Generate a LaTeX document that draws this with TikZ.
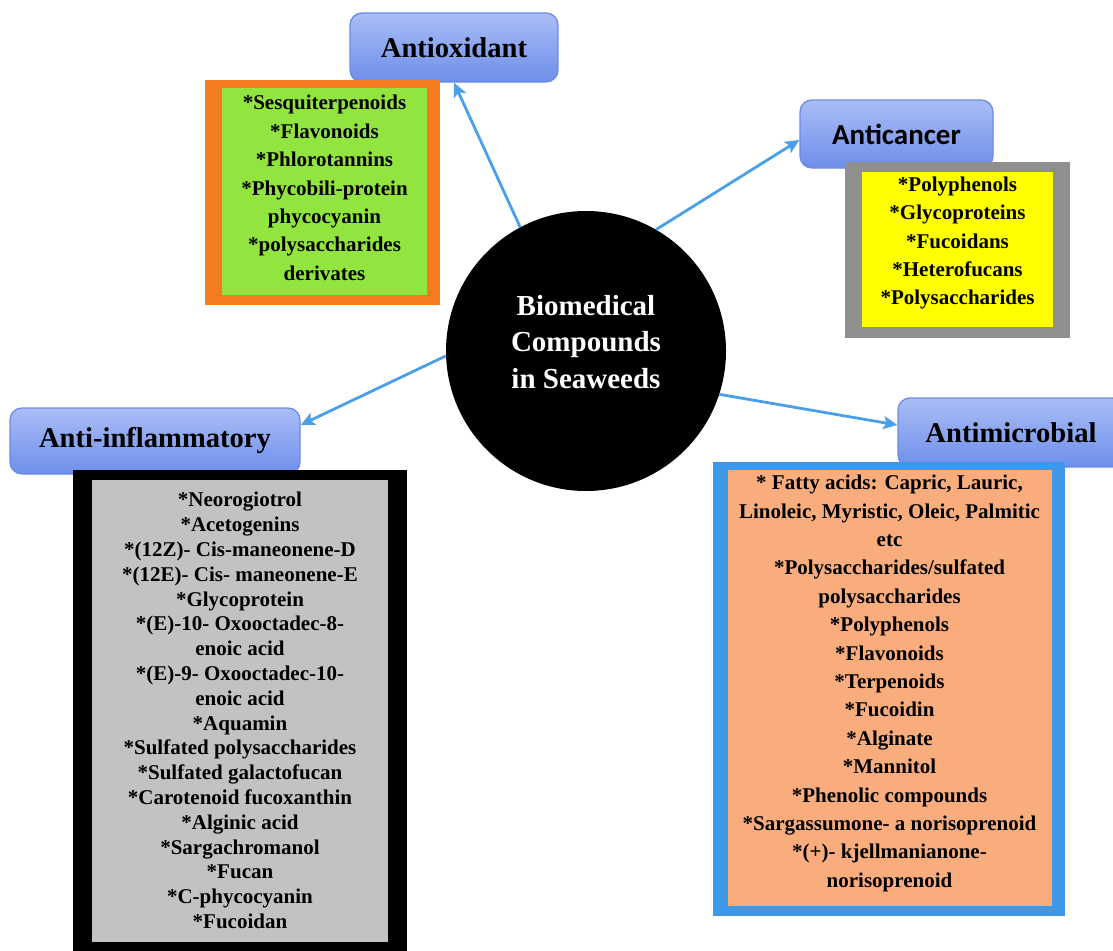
\documentclass[tikz,border=0pt]{standalone}
\usepackage{fontspec}
\setmainfont{Liberation Serif}
\newfontfamily\calib{Carlito}
\usetikzlibrary{arrows.meta}
\definecolor{arrowblue}{HTML}{4A9FEA}
\definecolor{tagtop}{HTML}{AABDF7}
\definecolor{tagbot}{HTML}{6E8EE9}
\definecolor{tagline}{HTML}{6A8BE6}
\definecolor{oxorange}{HTML}{F47B20}
\definecolor{oxgreen}{HTML}{92E53E}
\definecolor{cagray}{HTML}{8F8F8F}
\definecolor{cayellow}{HTML}{FFFF00}
\definecolor{inlgray}{HTML}{C2C2C2}
\definecolor{mcblue}{HTML}{3F97EA}
\definecolor{mcsalmon}{HTML}{F9AD7C}
\begin{document}
\begin{tikzpicture}[x=1pt,y=-1pt,
	tag/.style={rectangle, rounded corners=12pt, draw=tagline, line width=1.3pt,
		top color=tagtop, bottom color=tagbot, inner sep=0pt,
		font=\bfseries\fontsize{28.6}{30}\selectfont},
	frame/.style={rectangle, inner sep=0pt, outer sep=0pt},
	listtext/.style={align=center, inner sep=0pt, font=\bfseries\fontsize{21}{28.4}\selectfont},
	arr/.style={draw=arrowblue, line width=2.8pt, -{Stealth[length=14pt,width=13pt,inset=3pt]}}]
	\useasboundingbox (0,0) rectangle (1113,950);

	% category tags
	\node[tag, minimum width=208pt, minimum height=69pt] (antiox) at (454,47.5) {Antioxidant};
	\node[tag, minimum width=193pt, minimum height=68pt,
		font=\calib\bfseries\fontsize{29}{30}\selectfont] (cancer) at (896.5,134) {Anticancer};
	\node[tag, minimum width=290pt, minimum height=66pt] (inflam) at (155,441) {Anti-inflammatory};
	\node[tag, minimum width=226pt, minimum height=69pt] (microb) at (1011,432.5) {Antimicrobial};

	% antioxidant list
	\node[frame, fill=oxorange, minimum width=235pt, minimum height=225pt] (oxframe) at (322.5,192.5) {};
	\node[frame, fill=oxgreen, minimum width=205pt, minimum height=207pt] (oxpanel) at (324.5,191.5) {};
	\node[listtext] (oxlist) at (324.5,188) {*Sesquiterpenoids\\*Flavonoids\\*Phlorotannins\\
		*Phycobili-protein\\phycocyanin\\*polysaccharides\\derivates};

	% anticancer list
	\node[frame, fill=cagray, minimum width=225pt, minimum height=176pt] (caframe) at (957.5,250) {};
	\node[frame, fill=cayellow, minimum width=191pt, minimum height=155pt] (capanel) at (957.5,249.5) {};
	\node[listtext] (calist) at (957.5,243) {*Polyphenols\\*Glycoproteins\\*Fucoidans\\
		*Heterofucans\\*Polysaccharides};

	% anti-inflammatory list
	\node[frame, fill=black, minimum width=334pt, minimum height=490pt] (inframe) at (240,715) {};
	\node[frame, fill=inlgray, minimum width=296pt, minimum height=462pt] (inpanel) at (240,711) {};
	\node[listtext, font=\bfseries\fontsize{21}{24.8}\selectfont] (inlist) at (240,710.5) {*Neorogiotrol\\
		*Acetogenins\\*(12Z)- Cis-maneonene-D\\*(12E)- Cis- maneonene-E\\*Glycoprotein\\
		*(E)-10- Oxooctadec-8-\\enoic acid\\*(E)-9- Oxooctadec-10-\\enoic acid\\*Aquamin\\
		*Sulfated polysaccharides\\*Sulfated galactofucan\\*Carotenoid fucoxanthin\\
		*Alginic acid\\*Sargachromanol\\*Fucan\\*C-phycocyanin\\*Fucoidan};

	% antimicrobial list
	\node[frame, fill=mcblue, minimum width=352pt, minimum height=454pt] (mcframe) at (889,689) {};
	\node[frame, fill=mcsalmon, minimum width=324pt, minimum height=436pt] (mcpanel) at (890,688) {};
	\node[listtext] (mclist) at (889.5,683.5) {* Fatty acids: Capric, Lauric,\\
		Linoleic, Myristic, Oleic, Palmitic\\etc\\*Polysaccharides/sulfated\\polysaccharides\\
		*Polyphenols\\*Flavonoids\\*Terpenoids\\*Fucoidin\\*Alginate\\*Mannitol\\
		*Phenolic compounds\\*Sargassumone- a norisoprenoid\\*(+)- kjellmanianone-\\norisoprenoid};

	% centre
	\node[circle, fill=black, minimum size=280pt, inner sep=0pt] (hub) at (586,351) {};
	\node[align=center, text=white, font=\bfseries\fontsize{29}{36.5}\selectfont] (hubtext)
		at (586,342) {Biomedical\\Compounds\\in Seaweeds};

	\draw[arr] (hub.118) -- (antiox.south);
	\draw[arr] (hub.60) -- ([yshift=-6pt]cancer.west);
	\draw[arr] (hub.182.5) -- ([yshift=16pt]inflam.east);
	\draw[arr] (hub.-18) -- ([yshift=7.5pt]microb.west);
\end{tikzpicture}
\end{document}
